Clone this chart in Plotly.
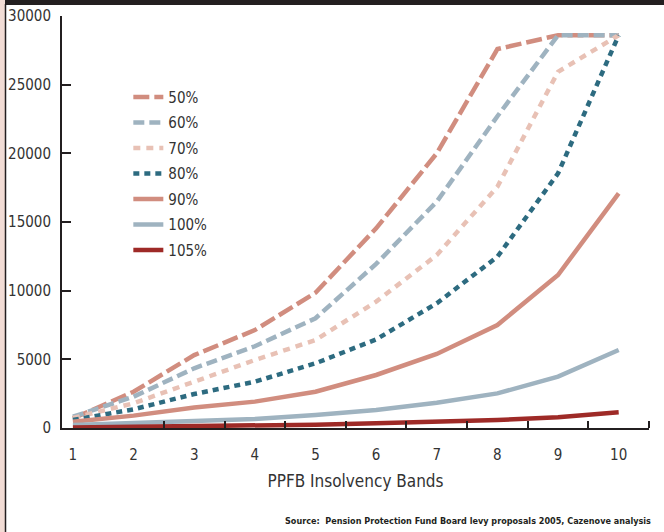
import plotly.graph_objects as go

bands = [1, 2, 3, 4, 5, 6, 7, 8, 9, 10]
series_names = ["50%", "60%", "70%", "80%", "90%", "100%", "105%"]
s50 = [700, 2640, 5310, 7130, 9850, 14540, 20000, 27590, 28600, 28600]
s60 = [820, 2280, 4350, 5950, 7990, 11950, 16480, 22700, 28600, 28600]
s70 = [730, 1800, 3370, 4950, 6400, 9200, 12590, 17570, 25940, 28600]
s80 = [580, 1360, 2475, 3370, 4710, 6450, 9080, 12470, 18540, 28600]
s90 = [460, 900, 1500, 1920, 2640, 3860, 5390, 7500, 11140, 17090]
s100 = [220, 340, 510, 650, 950, 1310, 1840, 2520, 3740, 5680]
s105 = [40, 80, 120, 180, 240, 340, 440, 580, 780, 1140]
y_ticks = [0, 5000, 10000, 15000, 20000, 25000, 30000]
x_minor_ticks = [2.5, 3.5, 4.5, 5.5, 6.5, 7.5, 8.5, 9.5, 10.5]
x_title = "PPFB Insolvency Bands"
source_text = "Source:  Pension Protection Fund Board levy proposals 2005, Cazenove analysis"

all_series = [s50, s60, s70, s80, s90, s100, s105]
colors = ["#d18d7f", "#9fb3c0", "#e8c1b5", "#2d6b80", "#d18d7f", "#9fb3c0", "#9e2a27"]
dashes = ["16px,5px", "11px,5px", "7px,6px", "6px,5px", "solid", "solid", "solid"]

fig = go.Figure()
for i, (name, vals) in enumerate(zip(series_names, all_series)):
    fig.add_trace(go.Scatter(
        x=bands, y=vals, name=name, mode="lines",
        legendgroup=f"g{i}",
        line=dict(color=colors[i], width=4.5, dash=dashes[i]),
    ))

font_narrow = "DejaVu Sans Condensed, Liberation Sans Narrow, Arial Narrow, Liberation Sans, sans-serif"

fig.update_layout(
    width=664, height=532,
    margin=dict(l=62, r=15, t=16, b=104, autoexpand=False),
    paper_bgcolor="white", plot_bgcolor="white",
    showlegend=True,
    legend=dict(
        x=0.113, y=0.843, xanchor="left", yanchor="top",
        font=dict(family=font_narrow, size=15, color="#333333"),
        bgcolor="rgba(0,0,0,0)", tracegroupgap=3,
    ),
    xaxis=dict(
        range=[0.82, 10.5], tickvals=bands, ticktext=[str(b) for b in bands],
        ticks="", showgrid=False, zeroline=False, automargin=False,
        showline=True, linecolor="#231f20", linewidth=2,
        tickfont=dict(family=font_narrow, size=15, color="#333333"),
        ticklabelstandoff=12,
        minor=dict(tickvals=x_minor_ticks, ticks="inside", ticklen=7,
                   tickwidth=2, tickcolor="#231f20", showgrid=False),
        title=dict(text=x_title, font=dict(family=font_narrow, size=17, color="#333333"),
                   standoff=12),
    ),
    yaxis=dict(
        range=[0, 30000], tickvals=y_ticks, ticktext=[str(v) for v in y_ticks],
        ticks="inside", ticklen=9, tickwidth=2, tickcolor="#231f20",
        showgrid=False, zeroline=False, automargin=False,
        showline=True, linecolor="#231f20", linewidth=2,
        tickfont=dict(family=font_narrow, size=15, color="#333333"),
        ticklabelstandoff=6,
    ),
)

fig.add_annotation(text=source_text, xref="paper", yref="paper",
                   x=1.006, y=-0.225, xanchor="right", yanchor="middle",
                   showarrow=False,
                   font=dict(family=font_narrow, size=9, color="#231f20", weight="bold"))

# top dark band and left pink strip (pixel positions converted to paper coords)
W, H = 664, 532
pl, pr, pt, pb = 62, 15, 16, 104
pw, ph = W - pl - pr, H - pt - pb

def px_x(x):
    return (x - pl) / pw

def px_y(y):
    return (H - pb - y) / ph

fig.add_shape(type="rect", xref="paper", yref="paper", layer="above",
              x0=px_x(0), x1=px_x(W), y0=px_y(5), y1=px_y(-2),
              fillcolor="#231f20", line_width=0)
fig.add_shape(type="rect", xref="paper", yref="paper", layer="above",
              x0=px_x(-2), x1=px_x(5), y0=px_y(H + 2), y1=px_y(0),
              fillcolor="#f2dcd5", line_width=0)
fig.add_shape(type="line", xref="paper", yref="paper", layer="above",
              x0=px_x(5.5), x1=px_x(5.5), y0=px_y(H + 2), y1=px_y(4),
              line=dict(color="#231f20", width=1.5))

fig.write_html("out.html",
               config={"displayModeBar": False, "staticPlot": True, "responsive": False},
               post_script="document.body.style.margin='0';document.body.style.overflow='hidden';")
